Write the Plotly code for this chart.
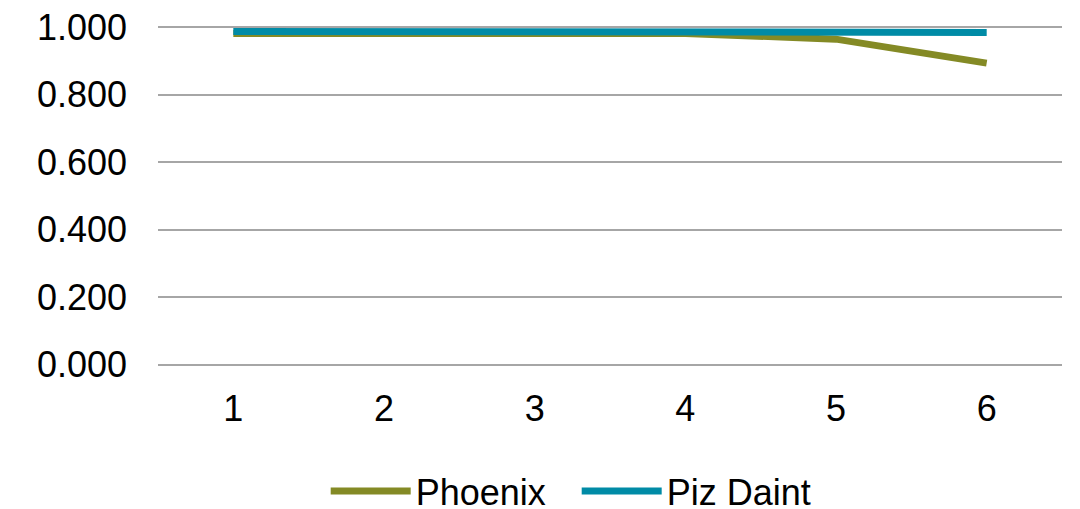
import plotly.graph_objects as go

categories = [1, 2, 3, 4, 5, 6]
phoenix = [0.982, 0.982, 0.982, 0.982, 0.965, 0.894]
piz_daint = [0.988, 0.988, 0.988, 0.988, 0.988, 0.985]
y_ticks = [0.0, 0.2, 0.4, 0.6, 0.8, 1.0]

fig = go.Figure()
fig.add_trace(go.Scatter(x=categories, y=phoenix, mode="lines", name="Phoenix",
                         line=dict(color="#848a25", width=7)))
fig.add_trace(go.Scatter(x=categories, y=piz_daint, mode="lines", name="Piz Daint",
                         line=dict(color="#008ba6", width=7)))

font = dict(family="Liberation Sans, Arial, sans-serif", size=36, color="#000000")
fig.update_layout(
    width=1080, height=509,
    margin=dict(l=158, r=18, t=26, b=143, autoexpand=False),
    paper_bgcolor="white", plot_bgcolor="white",
    font=font,
    showlegend=True,
    legend=dict(orientation="h", x=0.1855, xanchor="left",
                yref="container", y=0.035, yanchor="middle",
                font=font, itemwidth=80, tracegroupgap=0,
                entrywidth=156, entrywidthmode="pixels"),
    xaxis=dict(range=[0.5, 6.5], tickvals=categories, ticktext=[str(c) for c in categories],
               showgrid=False, zeroline=False, showline=False, ticks="",
               ticklabelstandoff=18, automargin=False),
    yaxis=dict(range=[-0.004, 1.004], tickvals=y_ticks, ticktext=[f"{v:.3f}" for v in y_ticks],
               showgrid=True, gridcolor="#a6a6a6", gridwidth=2, zeroline=False,
               showline=False, ticks="", ticklabelstandoff=30, automargin=False),
)
fig.write_html("out.html", config={"displayModeBar": False},
               post_script="document.body.style.margin='0';")
